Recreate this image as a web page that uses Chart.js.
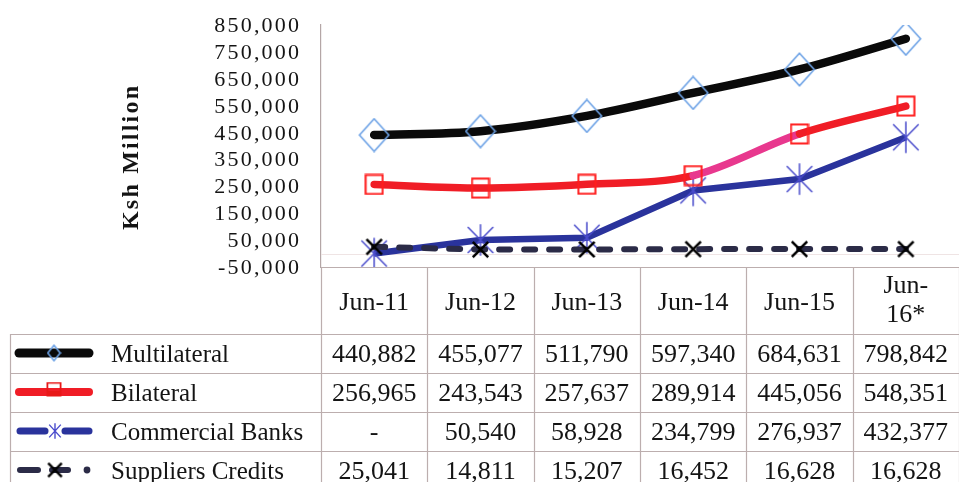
<!DOCTYPE html>
<html><head><meta charset="utf-8">
<script src="https://cdn.jsdelivr.net/npm/chart.js@4.4.1/dist/chart.umd.min.js"></script>
<style>html,body{margin:0;padding:0;background:#fff;}#wrap{width:959px;height:482px;position:relative;overflow:hidden;}</style>
</head><body><div id="wrap"><canvas id="c" width="959" height="482"></canvas></div>
<script>
// ---- data ----
const categories = ['Jun-11','Jun-12','Jun-13','Jun-14','Jun-15','Jun-16*'];
const headerLabels = [['Jun-11'],['Jun-12'],['Jun-13'],['Jun-14'],['Jun-15'],['Jun-','16*']];
const seriesNames = ['Multilateral','Bilateral','Commercial Banks','Suppliers Credits'];
const multilateral = [440882,455077,511790,597340,684631,798842];
const bilateral = [256965,243543,257637,289914,445056,548351];
const commercialBanks = [0,50540,58928,234799,276937,432377];
const suppliersCredits = [25041,14811,15207,16452,16628,16628];
const yTicks = [-50000,50000,150000,250000,350000,450000,550000,650000,750000,850000];
const yTitle = 'Ksh Million';

const FONT = "'Liberation Serif','Times New Roman',serif";
const TEXT = '#141414';
const GRIDC = '#bcaeae';

function fmt(v){ if(v===0) return '-'; return String(v).replace(/\B(?=(\d{3})+(?!\d))/g, ','); }

function makeMarker(kind, w, h, color, lw){
  const c = document.createElement('canvas'); c.width = w; c.height = h;
  const g = c.getContext('2d');
  g.strokeStyle = color; g.lineWidth = lw;
  const p = lw/2 + 0.5;
  g.beginPath();
  if (kind === 'diamond') {
    g.moveTo(w/2, p); g.lineTo(w-p, h/2); g.lineTo(w/2, h-p); g.lineTo(p, h/2); g.closePath();
  } else if (kind === 'square') {
    g.rect(p, p, w-2*p, h-2*p);
  } else if (kind === 'asterisk') {
    g.moveTo(w/2, p); g.lineTo(w/2, h-p);
    g.moveTo(p, p+h*0.08); g.lineTo(w-p, h-p-h*0.08);
    g.moveTo(w-p, p+h*0.08); g.lineTo(p, h-p-h*0.08);
  } else if (kind === 'x') {
    g.moveTo(p, p); g.lineTo(w-p, h-p); g.moveTo(w-p, p); g.lineTo(p, h-p);
  }
  g.stroke();
  return c;
}

const DIAMOND_C = '#6ea3e6', SQUARE_C = '#ff1e1e', AST_C = '#4a4ccc', X_C = '#000000';
const mDiamond = makeMarker('diamond', 32, 35, DIAMOND_C, 1.6);
const mSquare = makeMarker('square', 20, 22, SQUARE_C, 2);
const mAst = makeMarker('asterisk', 28, 34, AST_C, 1.5);
const mX = makeMarker('x', 19, 19, X_C, 2.6);
const lDiamond = makeMarker('diamond', 15, 18, DIAMOND_C, 1.6);
const lSquare = makeMarker('square', 16, 15, '#e81818', 1.8);
const lAst = makeMarker('asterisk', 14, 18, AST_C, 1.4);
const lX = makeMarker('x', 17, 17, X_C, 2.4);

const COL_BLACK = '#0a0a0a', COL_RED = '#f01d26', COL_PINK = '#e8388e', COL_BLUE = '#2a339c', COL_NAVY = '#2b2b47';

function txt(ctx, s, x, y, font, align, spacing){
  ctx.font = font; ctx.textAlign = align; ctx.textBaseline = 'alphabetic';
  if (spacing) {
    ctx.letterSpacing = spacing + 'px';
    if (align === 'right') x += spacing; else if (align === 'center') x += spacing/2;
  }
  ctx.fillText(s, x, y);
  ctx.letterSpacing = '0px';
}

const tablePlugin = {
  id: 'tableAndLabels',
  beforeDatasetsDraw(chart){
    const {ctx, chartArea: ca, scales: {y}} = chart;
    const y0 = Math.round(y.getPixelForValue(0)) + 0.5;
    ctx.save(); ctx.strokeStyle = '#efe4e4'; ctx.lineWidth = 1;
    ctx.beginPath(); ctx.moveTo(ca.left, y0); ctx.lineTo(ca.right, y0); ctx.stroke();
    ctx.restore();
  },
  afterDraw(chart){
    const {ctx, chartArea: ca, scales: {x, y}} = chart;
    ctx.save();
    ctx.fillStyle = TEXT;
    // y tick labels
    yTicks.forEach(v => {
      const py = y.getPixelForValue(v);
      txt(ctx, fmt(v), 299, py + 7, '22px ' + FONT, 'right', 2.2);
    });
    // y title
    ctx.save();
    ctx.translate(138, 158); ctx.rotate(-Math.PI/2);
    txt(ctx, yTitle, 0, 0, 'bold 24px ' + FONT, 'center', 2.2);
    ctx.restore();

    // table geometry
    const n = categories.length;
    const colW = (x.getPixelForValue(n-1) - x.getPixelForValue(0)) / (n-1);
    const centers = categories.map((_, i) => x.getPixelForValue(i));
    const edges = centers.map(c => c - colW/2); edges.push(centers[n-1] + colW/2);
    const headTop = ca.bottom, headBot = 334, rowH = 39, legLeft = 10;
    const rowTops = seriesNames.map((_, i) => headBot + i*rowH);
    const tableBot = headBot + seriesNames.length*rowH;

    ctx.strokeStyle = GRIDC; ctx.lineWidth = 1.2;
    ctx.beginPath();
    const hy = Math.round(headTop) + 0.5;
    ctx.moveTo(edges[0], hy); ctx.lineTo(edges[n], hy);
    rowTops.concat([tableBot]).forEach(t => { ctx.moveTo(legLeft, t + 0.5); ctx.lineTo(edges[n], t + 0.5); });
    edges.forEach(e => { const ex = Math.round(e) + 0.5; ctx.moveTo(ex, hy); ctx.lineTo(ex, tableBot); });
    ctx.moveTo(legLeft + 0.5, headBot); ctx.lineTo(legLeft + 0.5, tableBot);
    ctx.stroke();

    // header
    headerLabels.forEach((lines, i) => {
      if (lines.length === 1) txt(ctx, lines[0], centers[i], 310, '26px ' + FONT, 'center');
      else { txt(ctx, lines[0], centers[i], 293, '26px ' + FONT, 'center'); txt(ctx, lines[1], centers[i], 322, '26px ' + FONT, 'center'); }
    });

    // rows
    const seriesData = [multilateral, bilateral, commercialBanks, suppliersCredits];
    seriesData.forEach((arr, r) => {
      const cy = rowTops[r] + rowH/2;
      const base = cy + 8;
      txt(ctx, seriesNames[r], 111, base, '25px ' + FONT, 'left');
      arr.forEach((v, i) => txt(ctx, fmt(v), centers[i], base, '26px ' + FONT, 'center'));
      // legend symbol
      const sy = cy - 0.5;
      ctx.save(); ctx.lineCap = 'round';
      const seg = (x1, x2, w, c) => { ctx.strokeStyle = c; ctx.lineWidth = w; ctx.beginPath(); ctx.moveTo(x1, sy); ctx.lineTo(x2, sy); ctx.stroke(); };
      if (r === 0) { seg(19, 89, 9, COL_BLACK); ctx.drawImage(lDiamond, 54 - lDiamond.width/2, sy - lDiamond.height/2); }
      if (r === 1) { seg(19, 89, 8, COL_RED); ctx.drawImage(lSquare, 54 - lSquare.width/2, sy - 3 - lSquare.height/2); ctx.fillStyle = '#e81818'; ctx.fillRect(47, sy - 1, 14, 5); }
      if (r === 2) { seg(20, 45, 7, COL_BLUE); seg(65, 89, 7, COL_BLUE); ctx.drawImage(lAst, 55 - lAst.width/2, sy - lAst.height/2); }
      if (r === 3) { seg(20, 38, 6, COL_NAVY); seg(52, 68, 6, COL_NAVY); ctx.fillStyle = COL_NAVY; ctx.beginPath(); ctx.arc(87, sy, 3.4, 0, Math.PI*2); ctx.fill(); ctx.drawImage(lX, 55 - lX.width/2, sy - lX.height/2); }
      ctx.restore();
    });
    ctx.restore();
  }
};

const chart = new Chart(document.getElementById('c').getContext('2d'), {
  type: 'line',
  data: {
    labels: categories,
    datasets: [
      { label: seriesNames[0], data: multilateral, borderColor: COL_BLACK, borderWidth: 8.5, cubicInterpolationMode: 'monotone',
        pointStyle: mDiamond, pointRadius: 10, borderCapStyle: 'round', order: 1 },
      { label: seriesNames[1], data: bilateral, borderColor: COL_RED, borderWidth: 7.5, cubicInterpolationMode: 'monotone',
        pointStyle: mSquare, pointRadius: 10, borderCapStyle: 'round', order: 2,
        segment: { borderColor: c => c.p0DataIndex === 3 ? COL_PINK : COL_RED } },
      { label: seriesNames[2], data: commercialBanks, borderColor: COL_BLUE, borderWidth: 6.5, tension: 0,
        pointStyle: mAst, pointRadius: 10, order: 4 },
      { label: seriesNames[3], data: suppliersCredits, borderColor: COL_NAVY, borderWidth: 6, tension: 0,
        borderDash: [11, 14], borderCapStyle: 'round', pointStyle: mX, pointRadius: 10, order: 3 }
    ]
  },
  options: {
    responsive: false, animation: false, events: [],
    layout: { autoPadding: false, padding: { left: 0, right: -4, top: 25, bottom: 215 } },
    plugins: { legend: { display: false }, tooltip: { enabled: false } },
    scales: {
      x: { display: false, offset: true },
      y: { min: -50000, max: 850000, afterFit(s){ s.width = 321; },
           ticks: { display: false, stepSize: 100000 }, grid: { display: false },
           border: { display: true, color: '#b4a6a6', width: 1.2 } }
    }
  },
  plugins: [tablePlugin]
});
</script></body></html>
